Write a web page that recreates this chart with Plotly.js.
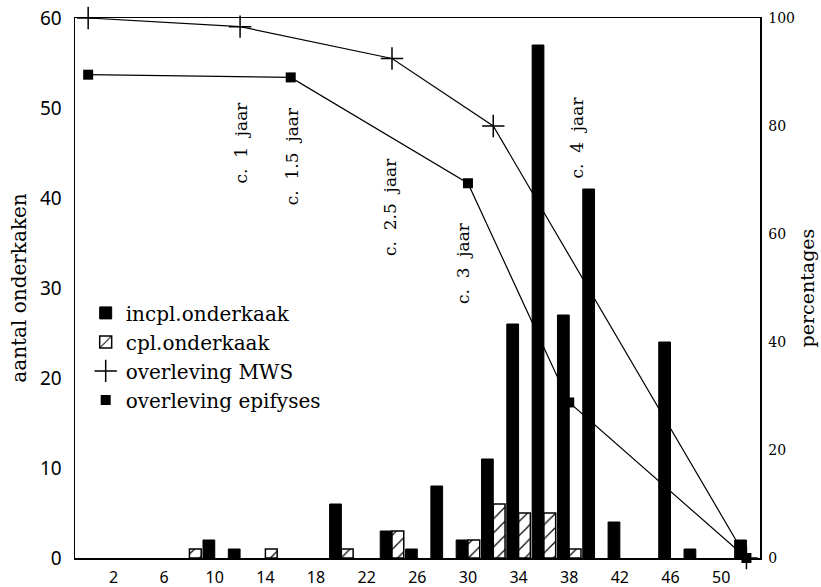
<!DOCTYPE html>
<html>
<head>
<meta charset="utf-8">
<script src="https://cdn.plot.ly/plotly-3.0.1.min.js"></script>
<style>html,body{margin:0;padding:0;background:#fff;}#chart{width:821px;height:587px;}</style>
</head>
<body>
<div id="chart"></div>
<script>
// incomplete mandibles (black bars): age categories and counts
const incplAges = [10,12,20,24,26,28,30,32,34,36,38,40,42,46,48,52];
const incpl     = [2,1,6,3,1,8,2,11,26,57,27,41,4,24,1,2];
// complete mandibles (hatched bars)
const cplAges = [8,14,20,24,30,32,34,36,38];
const cpl     = [1,1,1,3,2,6,5,5,1];
// survival MWS (percent)
const mwsAge = [0,12,24,32,52];
const mwsPct = [100,98.4,92.5,80,0];
// survival epiphyses (percent)
const epiAge = [0,16,30,38,52];
const epiPct = [89.5,89,69.4,28.8,0];
// tick labels
const xTicks = [2,6,10,14,18,22,26,30,34,38,42,46,50];
const leftTicks = [0,10,20,30,40,50,60];
const rightTicks = [0,20,40,60,80,100];
// age annotations
const annTexts = ['c.\u00a0 1\u00a0 jaar','c.\u00a0 1.5\u00a0 jaar','c.\u00a0 2.5\u00a0 jaar','c.\u00a0 3\u00a0 jaar','c.\u00a0 4\u00a0 jaar'];
const annX = [12.1,16.07,23.84,29.63,38.6];
const annY = [46.2,44.6,39.0,32.8,46.7];

const serif = 'DejaVu Serif';
const sans = 'Noto Sans';

const traces = [
  {type:'scatter', mode:'lines', x:mwsAge, y:mwsPct, yaxis:'y', showlegend:false,
   line:{color:'black', width:1.2}, cliponaxis:false, hoverinfo:'skip'},
  {type:'scatter', mode:'lines', x:epiAge, y:epiPct, yaxis:'y', showlegend:false,
   line:{color:'black', width:1.2}, cliponaxis:false, hoverinfo:'skip'},
  {type:'scatter', mode:'markers', x:mwsAge, y:mwsPct, yaxis:'y', name:'overleving MWS', legendrank:3,
   marker:{symbol:'cross-thin', size:16, color:'black', line:{color:'black', width:1.5}}, cliponaxis:false},
  {type:'scatter', mode:'markers', x:epiAge, y:epiPct, yaxis:'y', name:'overleving epifyses', legendrank:4,
   marker:{symbol:'square', size:10, color:'black'}, cliponaxis:false},
  {type:'bar', x:incplAges, y:incpl, yaxis:'y2', name:'incpl.onderkaak', legendrank:1,
   marker:{color:'black', line:{color:'black', width:1}}},
  {type:'bar', x:cplAges, y:cpl, yaxis:'y2', name:'cpl.onderkaak', legendrank:2,
   marker:{color:'white', line:{color:'black', width:1.5},
     pattern:{shape:'/', fgcolor:'black', bgcolor:'white', size:10, solidity:0.12}}}
];

const annotations = annTexts.map((t,i)=>({
  text:t, x:annX[i], y:annY[i], xref:'x', yref:'y2', showarrow:false, textangle:-90,
  xanchor:'center', yanchor:'middle', font:{family:serif, size:17, color:'black'}
}));

const layout = {
  width:821, height:587,
  margin:{l:75, r:61, t:18, b:29, pad:0},
  paper_bgcolor:'white', plot_bgcolor:'white',
  barmode:'group', bargap:0.07, bargroupgap:0,
  showlegend:true,
  legend:{x:0.0156, y:0.49, xanchor:'left', yanchor:'top', bgcolor:'rgba(0,0,0,0)',
    font:{family:serif, size:20, color:'black'}, tracegroupgap:0, itemsizing:'trace'},
  xaxis:{range:[-1.04,53.07], tickvals:xTicks, ticktext:xTicks.map(String), ticks:'',
    showgrid:false, zeroline:false, showline:true, linecolor:'black', linewidth:1.5, mirror:true,
    tickfont:{family:sans, size:16, color:'black'}, ticklabelstandoff:4},
  yaxis:{side:'right', range:[0,100], tickvals:rightTicks, ticks:'', showgrid:false, zeroline:false,
    showline:true, linecolor:'black', linewidth:1.5,
    tickfont:{family:serif, size:14, color:'black'}, ticklabelstandoff:4,
    title:{text:'percentages', font:{family:serif, size:19, color:'black'}, standoff:6}},
  yaxis2:{overlaying:'y', side:'left', range:[0,60], tickvals:leftTicks, ticks:'', showgrid:false, zeroline:false,
    showline:true, linecolor:'black', linewidth:1.5,
    tickfont:{family:sans, size:19, color:'black'}, ticklabelstandoff:8,
    title:{text:'aantal onderkaken\u00a0\u00a0\u00a0\u00a0', font:{family:serif, size:20, color:'black'}, standoff:8}},
  annotations:annotations
};

Plotly.newPlot('chart', traces, layout, {staticPlot:true, displayModeBar:false});
</script>
</body>
</html>
